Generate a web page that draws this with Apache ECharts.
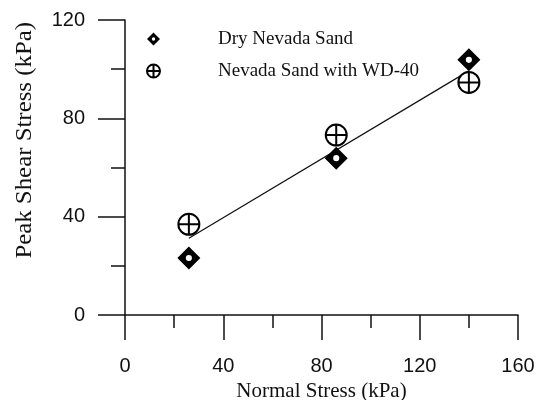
<!DOCTYPE html>
<html>
<head>
<meta charset="utf-8">
<script src="https://cdn.jsdelivr.net/npm/echarts@6/dist/echarts.min.js"></script>
<style>html,body{margin:0;padding:0;background:#fff}#c{width:536px;height:400px}</style>
</head>
<body>
<div id="c"></div>
<script>
var seriesNames = ['Dry Nevada Sand', 'Nevada Sand with WD-40'];
var normalStress = [26, 86, 140];
var dryShear = [23.2, 63.8, 103.8];
var wd40Shear = [36.9, 73.2, 94.6];
var fitX = [26, 140];
var fitY = [31.2, 99.3];
var xTicks = [0, 40, 80, 120, 160];
var yTicks = [0, 40, 80, 120];
var xTitle = 'Normal Stress (kPa)';
var yTitle = 'Peak Shear Stress (kPa)';

var diamondPath = 'path://M0,-12L12,0L0,12L-12,0Z M0,-3.2A3.2,3.2,0,1,0,0,3.2A3.2,3.2,0,1,0,0,-3.2Z';
var crossPath = 'path://M-10,0A10,10,0,1,1,10,0A10,10,0,1,1,-10,0Z M-10,0L10,0 M0,-10L0,10';

function pairs(xs, ys) { return xs.map(function (x, i) { return [x, ys[i]]; }); }

var chart = echarts.init(document.getElementById('c'), null, {renderer: 'canvas'});
var axisFont = {fontFamily: 'Liberation Sans, Arial, sans-serif', fontSize: 20, color: '#111'};
chart.setOption({
  animation: false,
  backgroundColor: '#fff',
  grid: {left: 125, right: 18, top: 20, bottom: 85, containLabel: false, outerBoundsMode: 'none'},
  xAxis: {
    type: 'value', min: xTicks[0], max: xTicks[xTicks.length - 1], interval: 40,
    axisLine: {onZero: false, lineStyle: {color: '#111', width: 1.5}},
    axisTick: {show: true, inside: false, length: 25, lineStyle: {color: '#111', width: 1.5}},
    minorTick: {show: true, splitNumber: 2, length: 13, lineStyle: {color: '#111', width: 1.5}},
    splitLine: {show: false},
    axisLabel: Object.assign({margin: 41}, axisFont),
    name: xTitle, nameLocation: 'middle', nameGap: 61,
    nameTextStyle: {fontFamily: 'Liberation Serif, Times New Roman, serif', fontSize: 21, color: '#111'}
  },
  yAxis: {
    type: 'value', min: yTicks[0], max: yTicks[yTicks.length - 1], interval: 40,
    axisLine: {show: true, onZero: false, lineStyle: {color: '#111', width: 1.5}},
    axisTick: {show: true, inside: false, length: 27, lineStyle: {color: '#111', width: 1.5}},
    minorTick: {show: true, splitNumber: 2, length: 14, lineStyle: {color: '#111', width: 1.5}},
    splitLine: {show: false},
    axisLabel: Object.assign({margin: 40}, axisFont)
  },
  graphic: [{
    type: 'text', left: 13, top: 22,
    rotation: Math.PI / 2,
    scaleX: 1.08,
    style: {text: yTitle, font: '23px "Liberation Serif", "Times New Roman", serif', fill: '#111'},
    originX: 0, originY: 0
  }],
  legend: {
    orient: 'vertical', left: 141, top: 24,
    itemWidth: 13, itemHeight: 13, itemGap: 12,
    data: [
      {name: seriesNames[0], icon: diamondPath},
      {name: seriesNames[1], icon: crossPath}
    ],
    textStyle: {fontFamily: 'Liberation Serif, Times New Roman, serif', fontSize: 19, color: '#111', lineHeight: 20, padding: [0, 0, 0, 53]}
  },
  series: [
    {
      name: 'fit', type: 'line', data: pairs(fitX, fitY), showSymbol: false, symbol: 'none',
      lineStyle: {color: '#111', width: 1.2}, silent: true, z: 1
    },
    {
      name: seriesNames[0], type: 'scatter', data: pairs(normalStress, dryShear),
      symbol: diamondPath, symbolSize: 23,
      itemStyle: {color: '#000', borderWidth: 0, opacity: 1}, z: 3
    },
    {
      name: seriesNames[1], type: 'scatter', data: pairs(normalStress, wd40Shear),
      symbol: crossPath, symbolSize: 21,
      itemStyle: {color: '#fff', borderColor: '#000', borderWidth: 2, opacity: 1}, z: 3
    }
  ]
});
</script>
</body>
</html>
